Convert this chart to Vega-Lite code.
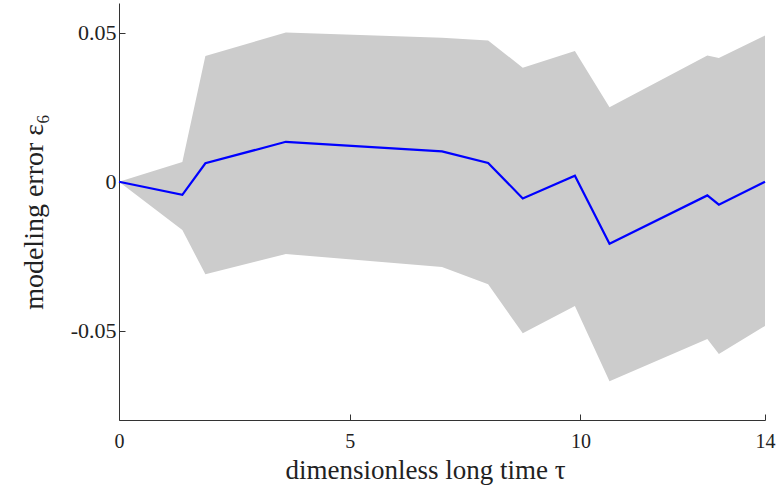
{
  "$schema": "https://vega.github.io/schema/vega-lite/v6.json",
  "autosize": "none",
  "width": 646,
  "height": 417,
  "padding": {"left": 119, "top": 3, "right": 11, "bottom": 70},
  "background": "white",
  "config": {
    "view": {"stroke": null},
    "font": "Liberation Serif"
  },
  "data": {
    "values": [
      {"tau": 0, "mean": 0, "lo": 0, "hi": 0},
      {"tau": 1.373, "mean": -0.0044, "lo": -0.0162, "hi": 0.0066},
      {"tau": 1.872, "mean": 0.0062, "lo": -0.0311, "hi": 0.0422},
      {"tau": 3.616, "mean": 0.0134, "lo": -0.0243, "hi": 0.0501},
      {"tau": 7.0, "mean": 0.0102, "lo": -0.0286, "hi": 0.0483},
      {"tau": 8.0, "mean": 0.0063, "lo": -0.0344, "hi": 0.0474},
      {"tau": 8.75, "mean": -0.0056, "lo": -0.0509, "hi": 0.0383},
      {"tau": 9.88, "mean": 0.0020, "lo": -0.0417, "hi": 0.0439},
      {"tau": 10.63, "mean": -0.0208, "lo": -0.0670, "hi": 0.0250},
      {"tau": 12.75, "mean": -0.0046, "lo": -0.0528, "hi": 0.0424},
      {"tau": 13.0, "mean": -0.0077, "lo": -0.0578, "hi": 0.0415},
      {"tau": 14.0, "mean": 0.0, "lo": -0.0484, "hi": 0.0491}
    ]
  },
  "encoding": {
    "x": {
      "field": "tau",
      "type": "quantitative",
      "scale": {"domain": [0, 14], "nice": false, "zero": false},
      "axis": {
        "title": "dimensionless long time τ",
        "titleFont": "Liberation Serif",
        "titleFontSize": 27,
        "titleFontWeight": "normal",
        "titleColor": "#222222",
        "titlePadding": 6,
        "titleX": 306,
        "titleAlign": "center",
        "values": [0, 5, 10, 14],
        "labelFont": "Liberation Serif",
        "labelFontSize": 20,
        "labelColor": "#222222",
        "labelPadding": 17,
        "labelFlush": false,
        "grid": false,
        "domainColor": "#333333",
        "tickColor": "#333333",
        "tickSize": -6,
        "domainWidth": 1,
        "tickWidth": 1
      }
    }
  },
  "layer": [
    {
      "mark": {"type": "area", "color": "#cccccc", "opacity": 1},
      "encoding": {
        "y": {
          "field": "lo",
          "type": "quantitative",
          "scale": {"domain": [-0.08, 0.06], "nice": false, "zero": false},
          "axis": {
            "title": "modeling error ε₆",
            "titleFont": "Liberation Serif",
            "titleFontSize": 28,
            "titleFontWeight": "normal",
            "titleColor": "#222222",
            "titlePadding": 22,
            "values": [-0.05, 0, 0.05],
            "labelExpr": "datum.value == 0 ? '0' : (datum.value < 0 ? '-0.05' : '0.05')",
            "labelFont": "Liberation Serif",
            "labelFontSize": 22,
            "labelColor": "#222222",
            "labelPadding": 9,
            "grid": false,
            "domainColor": "#333333",
            "tickColor": "#333333",
            "tickSize": -6,
            "domainWidth": 1,
            "tickWidth": 1
          }
        },
        "y2": {"field": "hi"}
      }
    },
    {
      "mark": {"type": "line", "color": "#0000ff", "strokeWidth": 2.2},
      "encoding": {
        "y": {"field": "mean", "type": "quantitative"}
      }
    }
  ]
}
